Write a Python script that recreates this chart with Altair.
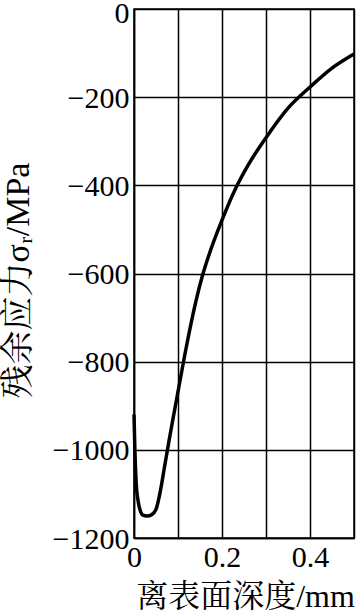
import altair as alt
import pandas as pd

depth = [0, 0.002, 0.005, 0.01, 0.015, 0.02, 0.03, 0.04, 0.05, 0.06, 0.07, 0.08,
         0.09, 0.1, 0.12, 0.14, 0.155, 0.17, 0.2, 0.232, 0.26, 0.3, 0.35, 0.4, 0.45, 0.5]
stress = [-920, -1000, -1075, -1120, -1140, -1148, -1150, -1147, -1135, -1093, -1035,
          -977, -922, -868, -761, -666, -607, -559, -479, -405, -353, -292, -225, -177,
          -134, -102]

x_ticks = [0, 0.1, 0.2, 0.3, 0.4, 0.5]
x_labels = ["0", "", "0.2", "", "0.4", ""]
y_ticks = [0, -200, -400, -600, -800, -1000, -1200]

df = pd.DataFrame({"depth": depth, "stress": stress})

font = "Liberation Serif, Noto Serif CJK SC, Noto Sans CJK SC"
label_map = "{" + ",".join(f"'{v}':'{l}'" for v, l in zip(x_ticks, x_labels)) + "}"

chart = alt.Chart(df).mark_line(
    color="black", strokeWidth=3.5, interpolate="monotone"
).encode(
    x=alt.X("depth:Q",
            scale=alt.Scale(domain=[0, 0.5], nice=False, zero=False),
            axis=alt.Axis(values=x_ticks, labelExpr=f"{label_map}[datum.value] || ''",
                          title="离表面深度/mm", grid=True, ticks=False,
                          labelFlush=False, labelPadding=4, titleFontSize=32,
                          titleY=58, titleBaseline="middle", titleX=111)),
    y=alt.Y("stress:Q",
            scale=alt.Scale(domain=[-1200, 0], nice=False, zero=False),
            axis=alt.Axis(values=y_ticks, format="d", title="残余应力σᵣ/MPa", grid=True,
                          ticks=False, labelFlush=False, labelPadding=5,
                          labelOffset={"condition": {"test": "datum.value == 0", "value": 4},
                                       "value": 1},
                          titleX=-116, titleY=271, titleBaseline="middle")),
).properties(
    width=220, height=529,
    background="white",
    autosize=alt.AutoSizeParams(type="none"),
    padding={"left": 134, "top": 9, "right": 2, "bottom": 74},
).configure_axis(
    labelFont=font, titleFont=font, labelFontSize=30, titleFontSize=34,
    labelColor="black", titleColor="black", titleFontWeight="normal",
    gridColor="black", gridWidth=1.5, gridOpacity=1,
    domainColor="black", domainWidth=1.5,
).configure_view(stroke="black", strokeWidth=1.5)

chart.save("out.html", embed_options={"renderer": "svg", "actions": False})
